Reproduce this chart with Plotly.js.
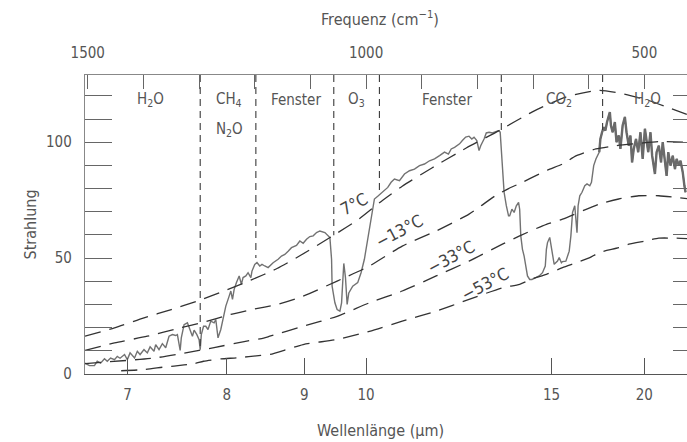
<!DOCTYPE html>
<html><head><meta charset="utf-8">
<script src="https://cdn.plot.ly/plotly-3.0.1.min.js"></script>
<style>
html,body{margin:0;padding:0;overflow:hidden;background:#fff}
#wrap{width:687px;height:442px;overflow:hidden;position:relative}
#chart{width:705px;height:442px}
</style>
</head><body><div id="wrap"><div id="chart"></div></div>
<script>
// ---- data (x in cm^-1, y = Strahlung) ----
const spectrumNu = [1505,1497,1488,1483,1477,1470,1465,1459,1452,1447,1442,1434,1429,1424,1416,1411,1406,1399,1393,1388,1381,1378,1372,1366,1360,1354,1348,1342,1339,1334,1332,1327,1321,1316,1312,1309,1304,1300,1298,1296,1292,1288,1284,1279,1273,1270,1266,1261,1257,1252,1246,1243,1240,1237,1233,1228,1224,1221,1216,1212,1207,1205,1200,1196,1191,1187,1182,1176,1167,1158,1152,1146,1140,1134,1125,1119,1113,1107,1101,1095,1089,1083,1074,1068,1065,1062,1061,1056,1052,1047,1044,1042,1040,1037,1034,1031,1024,1015,1009,1003,997,991,985,979,970,961,955,949,940,931,922,913,904,895,886,877,868,859,852,847,841,832,827,821,815,810,806,801,797,794,788,784,779,773,767,761,759,757,755,752,748,744,742,738,734,730,726,724,722,719,716,713,710,706,702,695,689,683,678,676,674,670,667,662,656,653,649,647,641,635,632,629,625,622,621,619,616,612,607,603,598,595,591,587,581,579,576,573,570,567,562,560,557,553,550,546,543,539,535,532,528,525,522,519,515,511,507,503,499,496,493,489,486,481,478,474,470,467,463,460,457,453,449,445,442,438,435,431,428,426];
const spectrumVal = [4.7,3.6,3.6,5.5,4.7,6.6,5.5,6.9,6.2,7.6,6.8,8.4,6.2,9.1,6.9,9.8,8.4,10.5,9.1,11.7,9.8,12.7,10.5,13.1,11.3,16.3,17.0,16.6,17.0,10.2,15.6,21.3,22.1,18.4,16.3,18.9,17.0,14.8,10.5,17.0,20.6,20.6,19.2,22.8,22.1,23.5,15.6,19.2,23.5,29.3,33.6,35.8,32.2,36.5,39.4,42.3,38.7,41.6,42.3,43.7,41.6,44.4,47.3,48.1,46.6,47.3,46.6,45.9,48.0,49.5,50.9,51.6,53.0,54.5,55.5,57.4,56.4,58.1,59.3,59.6,61.0,61.7,61.0,59.6,58.9,49.5,37.9,30.7,27.8,27.1,30.7,39.4,47.7,41.6,30.0,35.0,37.9,39.4,43.7,49.5,58.1,68.2,75.5,76.7,78.4,80.5,82.7,84.1,83.4,86.3,87.7,88.4,89.9,90.6,92.0,92.8,94.2,95.7,94.9,97.1,97.8,99.3,100.7,102.2,102.6,101.4,102.2,100.7,96.4,98.5,101.4,104.0,104.3,104.0,104.6,105.0,104.3,97.1,85.5,78.4,72.6,68.2,68.2,71.1,69.7,72.6,74.0,71.1,59.6,53.8,50.9,46.6,42.3,40.8,40.8,41.6,42.3,43.7,46.6,53.8,56.7,58.9,53.8,47.3,48.7,50.2,48.0,48.5,48.7,53.0,59.6,69.7,72.6,64.0,61.0,72.6,76.9,78.4,81.2,82.0,81.2,82.7,89.9,92.8,95.7,101.4,104.3,106.5,105.0,108.7,113.0,107.2,104.3,108.7,100.0,102.9,97.1,107.2,110.9,104.3,98.5,102.9,91.3,97.1,101.4,95.7,104.3,92.8,105.8,100.0,95.7,104.3,94.2,86.3,95.7,98.5,91.3,100.0,89.9,85.5,95.7,89.9,94.2,88.4,92.8,89.9,92.0,87.0,81.2,78.4];

const curveP7Nu  = [1505,1452,1399,1350,1304,1255,1207,1160,1119,1060,1012,970,935,881,820,761,702,641,581,540,492,451,400];
const curveP7Val = [16.3,19.9,24.2,27.8,31.4,35.8,40.5,45.5,51.0,59.6,67.0,75.0,81.0,89.0,97.5,105.0,113.0,119.5,122.4,121.0,118.0,114.4,110.0];

const curveM13Nu  = [1505,1452,1393,1334,1292,1243,1205,1160,1113,1052,994,935,874,815,767,744,719,689,670,647,622,587,551,510,474,426,400];
const curveM13Val = [10.2,13.4,16.3,19.9,22.3,25.7,27.8,30.0,33.6,40.1,46.6,55.2,61.7,69.0,77.0,80.0,82.7,86.3,88.4,90.6,94.2,97.1,98.5,99.5,100.3,100.0,99.5];

const curveM33Nu  = [1505,1381,1327,1273,1219,1184,1173,1113,1052,994,935,874,815,755,724,676,647,581,546,510,474,444,400];
const curveM33Val = [4.5,6.9,9.0,11.4,14.0,15.5,16.3,20.6,24.9,30.7,35.8,42.3,48.7,56.0,59.6,64.6,66.8,73.3,75.5,76.9,76.9,76.2,75.0];

const curveM53Nu  = [1440,1399,1363,1345,1309,1292,1261,1232,1189,1173,1113,1052,994,935,874,815,755,724,702,676,647,622,598,581,546,528,498,474,444,400];
const curveM53Val = [1.4,1.9,3.0,3.4,4.5,5.5,6.5,7.0,8.0,8.4,12.7,14.9,18.4,22.8,27.1,32.2,37.2,38.7,41.0,43.0,45.9,48.0,50.2,52.4,54.5,56.0,57.4,58.6,58.6,58.2];

const curveLabels   = ['7°C','−13°C','−33°C','−53°C'];
const curveLabelNu  = [1022, 940, 847, 786];
const curveLabelVal = [73.3, 61.6, 50.3, 38.7];

const bandBoundNu   = [1298, 1198, 1058, 976, 757, 575];
const bandBoundLow  = [10.5, 50.0, 59.9, 77.2, 105.3, 105.3];

const bandLabels    = ['H<sub>2</sub>O','CH<sub>4</sub>','N<sub>2</sub>O','Fenster','O<sub>3</sub>','Fenster','CO<sub>2</sub>','H<sub>2</sub>O'];
const bandLabelNu   = [1388, 1246, 1246, 1126, 1017, 854, 653, 495];
const bandLabelVal  = [118.3, 118.3, 105.3, 118.3, 118.3, 118.3, 118.3, 118.3];

const wavelengthTicks = [7, 8, 9, 10, 15, 20];          // µm
const frequencyTicks  = [1500,1400,1300,1200,1100,1000,900,800,700,600,500]; // cm^-1
const frequencyLabeled = [1500, 1000, 500];
const strahlungTicks  = [0, 50, 100];

const X_RANGE = [1505, 400];
const Y_RANGE = [0, 129];

// ---- build ----
const FONT = "'Liberation Sans Narrow','DejaVu Sans Condensed','Roboto',sans-serif";
const TXT = '#555';
const traces = [];

traces.push({x: spectrumNu, y: spectrumVal, mode:'lines', line:{color:'#727272', width:1.4}, hoverinfo:'skip'});
const thickNu = [], thickVal = [];
spectrumNu.forEach((v,i)=>{ if (v <= 581) { thickNu.push(v); thickVal.push(spectrumVal[i]); }});
traces.push({x: thickNu, y: thickVal, mode:'lines', line:{color:'#6a6a6a', width:2.4}, hoverinfo:'skip'});

[[curveP7Nu,curveP7Val],[curveM13Nu,curveM13Val],[curveM33Nu,curveM33Val],[curveM53Nu,curveM53Val]].forEach(([nx,ny])=>{
  traces.push({x:nx, y:ny, mode:'lines', line:{color:'#333', width:1.3, dash:'16px,9px', shape:'spline', smoothing:0.6}, hoverinfo:'skip'});
});

bandBoundNu.forEach((nu,i)=>{
  traces.push({x:[nu,nu], y:[Y_RANGE[1], bandBoundLow[i]], xaxis:'x2', mode:'lines', line:{color:'#3a3a3a', width:1.1, dash:'7px,5px'}, hoverinfo:'skip'});
});

const annotations = [];
bandLabels.forEach((t,i)=>annotations.push({x:bandLabelNu[i], y:bandLabelVal[i], text:t, showarrow:false, font:{family:FONT, size:15, color:TXT}}));
curveLabels.forEach((t,i)=>annotations.push({x:curveLabelNu[i], y:curveLabelVal[i], text:t, showarrow:false, textangle:-28, font:{family:FONT, size:17, color:'#444'}}));
annotations.push({xref:'paper', yref:'paper', x:0.48, y:0, yshift:-56, xanchor:'center', yanchor:'middle', text:'Wellenlänge (µm)', showarrow:false, font:{family:FONT, size:16, color:TXT}});
annotations.push({xref:'paper', yref:'paper', x:0.48, y:1, yshift:57, xanchor:'center', yanchor:'middle', text:'Frequenz (cm<sup>−1</sup>)', showarrow:false, font:{family:FONT, size:16, color:TXT}});
annotations.push({xref:'paper', yref:'paper', x:0, xshift:-55, y:0.5, xanchor:'center', yanchor:'middle', text:'Strahlung', textangle:-90, showarrow:false, font:{family:FONT, size:16, color:TXT}});

const layout = {
  width:705, height:442,
  margin:{l:85, r:5, t:75, b:68},
  paper_bgcolor:'#fff', plot_bgcolor:'#fff',
  showlegend:false,
  xaxis:{range:X_RANGE, tickmode:'array', tickvals:wavelengthTicks.map(l=>10000/l), ticktext:wavelengthTicks.map(String),
    ticks:'inside', ticklen:16, tickcolor:'#555', showline:true, linecolor:'#555', linewidth:1.2, showgrid:false, zeroline:false,
    ticklabelstandoff:7, tickfont:{family:FONT, size:15, color:TXT}},
  xaxis2:{overlaying:'x', side:'top', anchor:'y', range:X_RANGE, tickmode:'array', tickvals:frequencyTicks,
    ticktext:frequencyTicks.map(v=>frequencyLabeled.includes(v)?String(v):''),
    ticks:'inside', ticklen:14, tickcolor:'#666', showline:true, linecolor:'#888', linewidth:1.2, showgrid:false, zeroline:false,
    ticklabelstandoff:10, tickfont:{family:FONT, size:15, color:TXT}},
  yaxis:{range:Y_RANGE, tickmode:'array', tickvals:strahlungTicks, ticks:'inside', ticklen:27, tickcolor:'#666',
    showline:true, linecolor:'#888', linewidth:1.2, mirror:'allticks', showgrid:false, zeroline:false,
    minor:{tickmode:'linear', tick0:0, dtick:10, ticks:'inside', ticklen:14, tickcolor:'#666', showgrid:false},
    ticklabelstandoff:9, tickfont:{family:FONT, size:15, color:TXT}},
  annotations: annotations
};

Plotly.newPlot('chart', traces, layout, {staticPlot:true, displayModeBar:false});
</script>
</body></html>
